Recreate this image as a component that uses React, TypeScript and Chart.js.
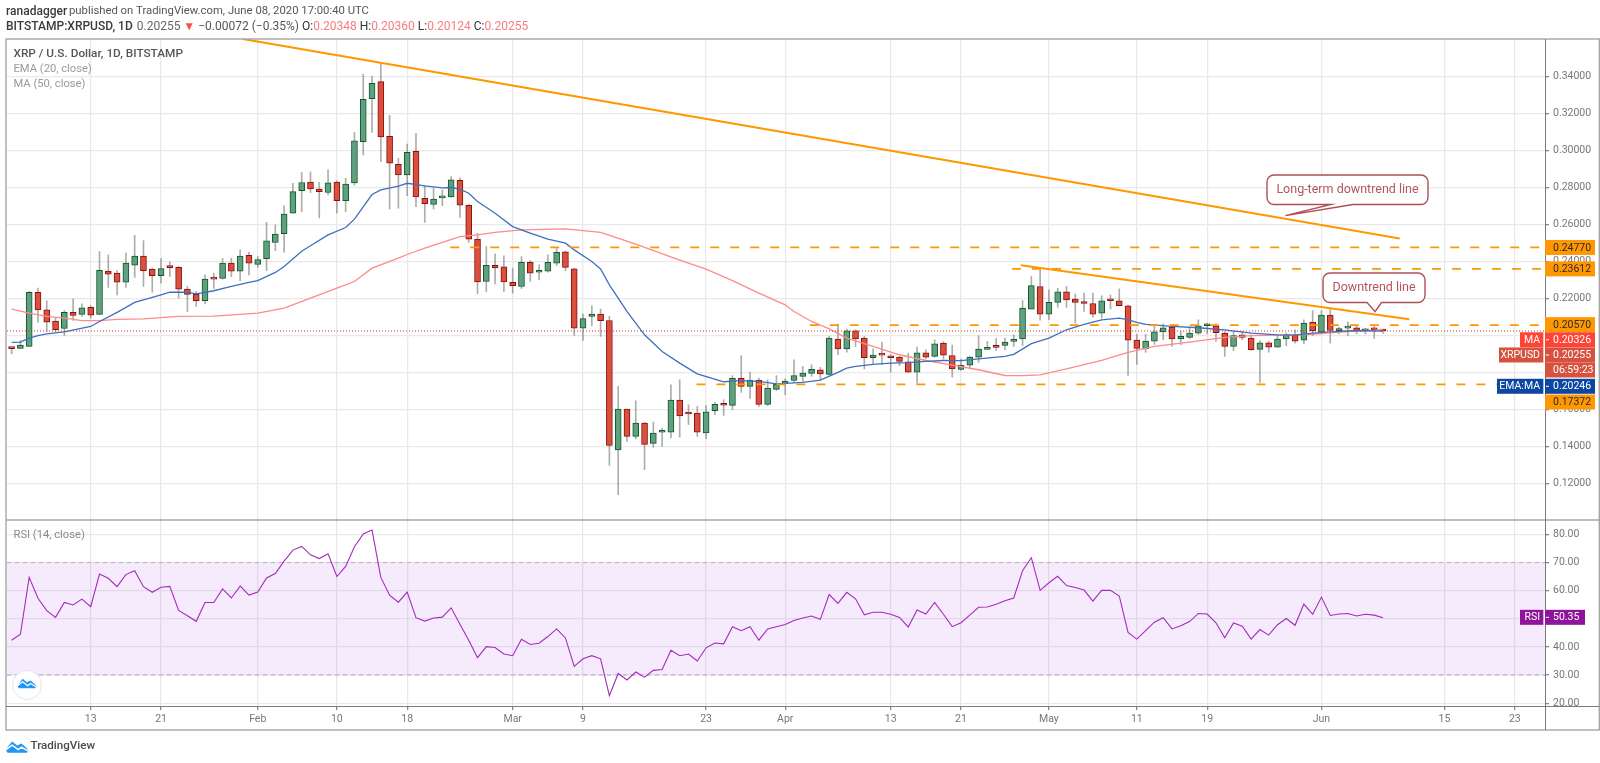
import React, { useEffect, useRef } from "react";
import { Chart, registerables } from "chart.js";

Chart.register(...registerables);

const opens = [
  0.1933, 0.1931, 0.1942, 0.2234, 0.214, 0.2079, 0.2039, 0.2127, 0.2115, 0.2154,
  0.2115, 0.2349, 0.2338, 0.2289, 0.2381, 0.243, 0.236, 0.2324, 0.2369, 0.2369,
  0.2252, 0.2223, 0.2189, 0.2311, 0.2309, 0.2392, 0.2349, 0.2435, 0.2385, 0.2417,
  0.2504, 0.2552, 0.2662, 0.2784, 0.2831, 0.2792, 0.2774, 0.2831, 0.273, 0.2826,
  0.3049, 0.3281, 0.3373, 0.3078, 0.2927, 0.2869, 0.2997, 0.2743, 0.2709, 0.2745,
  0.275, 0.284, 0.2705, 0.2522, 0.2293, 0.2381, 0.2372, 0.2289, 0.2266, 0.2397,
  0.2343, 0.2349, 0.2392, 0.2453, 0.2361, 0.2041, 0.2104, 0.2117, 0.2082, 0.1382,
  0.1604, 0.1456, 0.1528, 0.1418, 0.1478, 0.1479, 0.1652, 0.158, 0.1582, 0.1474,
  0.1595, 0.1627, 0.1623, 0.1769, 0.1726, 0.176, 0.1629, 0.171, 0.1742, 0.1758,
  0.178, 0.1796, 0.1816, 0.1791, 0.1982, 0.1928, 0.2027, 0.1987, 0.1881, 0.1896,
  0.189, 0.1884, 0.1859, 0.1803, 0.1908, 0.1888, 0.196, 0.1893, 0.1818, 0.1841,
  0.1884, 0.1926, 0.1942, 0.1947, 0.1969, 0.1982, 0.2144, 0.2266, 0.2117, 0.218,
  0.2237, 0.2198, 0.2185, 0.2174, 0.2122, 0.2194, 0.2189, 0.2162, 0.1976, 0.1928,
  0.1971, 0.2021, 0.2046, 0.1982, 0.1991, 0.2014, 0.2054, 0.2054, 0.2014, 0.1942,
  0.2005, 0.1987, 0.1926, 0.1962, 0.1938, 0.1982, 0.2005, 0.1976, 0.2073, 0.2019,
  0.2111, 0.2027, 0.2041, 0.2043, 0.2027, 0.2034, 0.20348,
];
const closes = [
  0.193, 0.1949, 0.2234, 0.214, 0.2073, 0.2032, 0.2127, 0.2109, 0.2151, 0.2111,
  0.2354, 0.2333, 0.2289, 0.2392, 0.243, 0.2352, 0.2325, 0.2363, 0.2368, 0.2252,
  0.2223, 0.219, 0.2306, 0.2306, 0.2392, 0.2349, 0.243, 0.2392, 0.2412, 0.2513,
  0.2549, 0.2657, 0.2779, 0.2828, 0.2793, 0.2779, 0.2826, 0.273, 0.282, 0.3054,
  0.3278, 0.3364, 0.3074, 0.2932, 0.2869, 0.2991, 0.275, 0.2714, 0.2739, 0.2756,
  0.2842, 0.2705, 0.2522, 0.2291, 0.2381, 0.2367, 0.2291, 0.2271, 0.2397, 0.2338,
  0.2349, 0.2397, 0.2451, 0.2369, 0.2041, 0.2093, 0.2117, 0.2081, 0.1407, 0.1604,
  0.1456, 0.1528, 0.1413, 0.1474, 0.1481, 0.1652, 0.1566, 0.1577, 0.1478, 0.1589,
  0.1629, 0.1624, 0.1769, 0.1726, 0.176, 0.1629, 0.1717, 0.1739, 0.1755, 0.1784,
  0.1798, 0.1818, 0.1793, 0.1987, 0.1928, 0.2027, 0.1982, 0.1881, 0.1895, 0.1895,
  0.1881, 0.1861, 0.1803, 0.1908, 0.1884, 0.1956, 0.1895, 0.182, 0.1841, 0.1884,
  0.1928, 0.1929, 0.1937, 0.1965, 0.1978, 0.2149, 0.2271, 0.2117, 0.218, 0.2237,
  0.2194, 0.218, 0.2174, 0.2117, 0.2189, 0.2189, 0.2163, 0.1976, 0.1931, 0.1971,
  0.2021, 0.2043, 0.1982, 0.1996, 0.2014, 0.2054, 0.206, 0.2016, 0.1942, 0.2,
  0.1991, 0.1924, 0.1962, 0.1938, 0.1982, 0.2005, 0.1971, 0.2068, 0.2027, 0.2111,
  0.2028, 0.2039, 0.2043, 0.2027, 0.2036, 0.2032, 0.20255,
];
const highs = [
  0.1934, 0.1974, 0.2239, 0.2257, 0.2189, 0.2095, 0.2136, 0.2199, 0.2172, 0.2162,
  0.2455, 0.2437, 0.2352, 0.2446, 0.2543, 0.2514, 0.2365, 0.2417, 0.2399, 0.2374,
  0.2266, 0.2239, 0.2329, 0.2338, 0.2417, 0.2419, 0.2464, 0.2451, 0.2428, 0.2613,
  0.2599, 0.2702, 0.2824, 0.2882, 0.2885, 0.2829, 0.2896, 0.2837, 0.2851, 0.3099,
  0.3413, 0.3404, 0.3476, 0.3191, 0.2959, 0.3036, 0.3094, 0.2811, 0.2797, 0.2788,
  0.286, 0.2853, 0.2711, 0.2554, 0.2482, 0.2442, 0.2432, 0.2365, 0.2428, 0.2406,
  0.2383, 0.2437, 0.2471, 0.2457, 0.2365, 0.2117, 0.2162, 0.2144, 0.2104, 0.1726,
  0.1604, 0.1648, 0.1532, 0.1533, 0.1501, 0.1735, 0.1762, 0.1627, 0.1618, 0.1622,
  0.164, 0.1654, 0.1784, 0.1892, 0.1803, 0.1771, 0.1762, 0.1784, 0.1767, 0.187,
  0.1834, 0.1843, 0.1829, 0.1996, 0.2063, 0.2036, 0.2032, 0.1996, 0.1929, 0.1964,
  0.1897, 0.1888, 0.1906, 0.1938, 0.1924, 0.1978, 0.1969, 0.1949, 0.1874, 0.1888,
  0.2, 0.1969, 0.1985, 0.1987, 0.2005, 0.219, 0.232, 0.2361, 0.2248, 0.2257,
  0.2266, 0.2225, 0.223, 0.223, 0.2216, 0.2221, 0.2253, 0.2165, 0.2007, 0.2007,
  0.2059, 0.2064, 0.2054, 0.2023, 0.2046, 0.2086, 0.2068, 0.2064, 0.2021, 0.2023,
  0.2023, 0.2005, 0.1973, 0.1969, 0.2007, 0.2014, 0.2032, 0.2086, 0.2136, 0.2136,
  0.2149, 0.2046, 0.2075, 0.2054, 0.2041, 0.205, 0.2036,
];
const lows = [
  0.1902, 0.1931, 0.1942, 0.2072, 0.2023, 0.2023, 0.2, 0.2082, 0.2104, 0.2095,
  0.2115, 0.2261, 0.2221, 0.2261, 0.2315, 0.2266, 0.2235, 0.2284, 0.232, 0.2203,
  0.2131, 0.2158, 0.2172, 0.2255, 0.2306, 0.232, 0.2297, 0.2329, 0.237, 0.2352,
  0.246, 0.2451, 0.2662, 0.2671, 0.2774, 0.2637, 0.2761, 0.2662, 0.2671, 0.2813,
  0.2977, 0.3099, 0.2941, 0.2685, 0.2689, 0.2757, 0.2698, 0.2612, 0.2685, 0.2703,
  0.2747, 0.2639, 0.2505, 0.2226, 0.2239, 0.228, 0.2239, 0.223, 0.2255, 0.2293,
  0.2302, 0.2343, 0.2379, 0.2352, 0.2001, 0.1974, 0.2054, 0.1996, 0.1299, 0.1141,
  0.1429, 0.1442, 0.1276, 0.1397, 0.1402, 0.1447, 0.1452, 0.1519, 0.1456, 0.1443,
  0.1573, 0.1569, 0.16, 0.1694, 0.1661, 0.1618, 0.1623, 0.1704, 0.1681, 0.1748,
  0.1753, 0.178, 0.1762, 0.1787, 0.1897, 0.1911, 0.1942, 0.182, 0.1843, 0.1843,
  0.1802, 0.1838, 0.1802, 0.1744, 0.1874, 0.1884, 0.1874, 0.1776, 0.1812, 0.182,
  0.1856, 0.1926, 0.192, 0.1924, 0.1942, 0.1946, 0.2144, 0.2084, 0.2086, 0.2153,
  0.2153, 0.2068, 0.2131, 0.21, 0.2095, 0.2144, 0.2163, 0.1785, 0.1845, 0.191,
  0.1953, 0.1978, 0.1942, 0.1951, 0.1985, 0.2007, 0.2009, 0.1969, 0.1888, 0.1919,
  0.1978, 0.192, 0.1748, 0.1911, 0.1937, 0.1946, 0.196, 0.1956, 0.2, 0.201,
  0.196, 0.201, 0.2, 0.201, 0.2009, 0.1985, 0.20124,
];
const rsiValues = [
  42.4, 44.5, 64.7, 57.3, 52.9, 50.5, 55.8, 54.9, 57.0, 54.3,
  65.9, 64.4, 61.4, 65.7, 67.1, 61.4, 59.4, 61.2, 61.5, 53.0,
  51.1, 49.1, 55.8, 55.8, 60.6, 57.4, 61.6, 58.4, 59.5, 64.5,
  66.1, 70.5, 74.4, 75.7, 72.7, 71.4, 73.1, 65.0, 68.6, 75.6,
  80.1, 81.5, 64.7, 58.4, 55.9, 59.5, 50.4, 49.2, 50.3, 50.6,
  53.9, 48.1, 42.4, 36.2, 40.1, 39.8, 37.5, 36.9, 42.7, 40.9,
  41.3, 43.7, 46.4, 43.2, 33.1, 35.8, 36.9, 35.8, 22.7, 30.6,
  28.3, 31.1, 29.3, 31.7, 32.0, 38.8, 36.9, 37.5, 35.0, 39.7,
  41.4, 41.1, 47.2, 45.8, 47.2, 42.4, 46.4, 47.2, 48.0, 49.4,
  50.3, 51.0, 49.8, 58.6, 55.5, 59.4, 57.1, 51.4, 52.3, 52.3,
  51.6, 50.5, 47.1, 53.1, 51.7, 55.8, 51.6, 47.2, 48.6, 51.3,
  54.1, 54.2, 55.2, 56.4, 57.4, 67.1, 71.7, 60.1, 62.8, 65.1,
  61.8, 61.1, 60.2, 56.3, 60.1, 60.1, 58.1, 45.2, 42.8, 45.8,
  48.8, 50.4, 46.4, 47.5, 49.0, 51.9, 51.7, 48.6, 43.3, 48.5,
  47.4, 42.8, 46.2, 44.2, 47.9, 50.1, 47.7, 55.2, 51.6, 57.7,
  51.2, 51.7, 51.9, 51.0, 51.6, 51.3, 50.35,
];
const emaDays = [0, 1, 2, 3, 4, 6, 9, 10, 12, 14, 15, 17, 18, 20, 21, 23, 25, 27, 28, 30, 31, 33, 34, 36, 38, 39, 41, 42, 44, 45, 47, 49, 50, 51, 52, 53, 55, 57, 59, 61, 63, 64, 66, 67, 68, 70, 72, 74, 76, 78, 81, 83, 85, 87, 90, 92, 94, 95, 96, 98, 100, 102, 104, 106, 108, 110, 113, 114, 116, 118, 120, 122, 124, 126, 127, 128, 129, 132, 135, 138, 141, 144, 146, 148, 150, 153, 156];
const emaValues = [0.1964, 0.1965, 0.1987, 0.2, 0.201, 0.2021, 0.205, 0.2077, 0.2126, 0.218, 0.2194, 0.2221, 0.2235, 0.2235, 0.2226, 0.2243, 0.2266, 0.2288, 0.2298, 0.2342, 0.2374, 0.2457, 0.2486, 0.2545, 0.2585, 0.263, 0.2763, 0.2788, 0.2808, 0.2824, 0.281, 0.2799, 0.2801, 0.2792, 0.277, 0.2725, 0.2662, 0.259, 0.2554, 0.2522, 0.25, 0.2464, 0.2401, 0.2361, 0.2275, 0.2131, 0.2005, 0.1915, 0.1852, 0.1794, 0.1751, 0.1757, 0.1753, 0.174, 0.1748, 0.176, 0.1802, 0.1825, 0.1834, 0.1845, 0.1852, 0.1854, 0.1861, 0.1866, 0.1865, 0.1875, 0.1888, 0.1899, 0.1957, 0.1987, 0.2032, 0.2061, 0.2086, 0.2095, 0.2086, 0.2072, 0.2061, 0.205, 0.2043, 0.2032, 0.2014, 0.2005, 0.2003, 0.2014, 0.2021, 0.2028, 0.20246];
const maDays = [0, 2, 4, 6, 8, 10, 12, 15, 19, 23, 28, 31, 34, 37, 39, 41, 44, 45, 47, 51, 53, 55, 58, 63, 67, 71, 76, 79, 82, 85, 88, 89, 91, 93, 95, 98, 101, 104, 107, 110, 113, 115, 117, 120, 124, 127, 130, 134, 138, 141, 144, 148, 151, 156];
const maValues = [0.2144, 0.2122, 0.2104, 0.2095, 0.2082, 0.2081, 0.2088, 0.2091, 0.2104, 0.2106, 0.2122, 0.2149, 0.2203, 0.2257, 0.2293, 0.2365, 0.2419, 0.2439, 0.2473, 0.2536, 0.2545, 0.2559, 0.2572, 0.2577, 0.2558, 0.2495, 0.2408, 0.236, 0.2298, 0.223, 0.2167, 0.2131, 0.2077, 0.2037, 0.1987, 0.1942, 0.1897, 0.1866, 0.1841, 0.1816, 0.1785, 0.1784, 0.1788, 0.1821, 0.1866, 0.191, 0.1942, 0.1965, 0.1991, 0.2, 0.2003, 0.2007, 0.2019, 0.20326];

const dayTicks = [9, 17, 28, 37, 45, 57, 65, 79, 88, 100, 108, 118, 128, 136, 149, 163, 171];
const dayTickLabels = ["13", "21", "Feb", "10", "18", "Mar", "9", "23", "Apr", "13", "21", "May", "11", "19", "Jun", "15", "23"];
const priceTicks = [0.12, 0.14, 0.16, 0.18, 0.2, 0.22, 0.24, 0.26, 0.28, 0.3, 0.32, 0.34];
const rsiTicks = [20, 30, 40, 50, 60, 70, 80];

const longTrendDays = [26.3, 157.9];
const longTrendPrices = [0.3604, 0.2526];
const shortTrendDays = [114.8, 159];
const shortTrendPrices = [0.2381, 0.2089];
const levelPrices = [0.2477, 0.23612, 0.2057, 0.17372];
const levelStartDays = [49.9, 113.8, 90.8, 77.9];
const lastPrice = 0.20255;
const rsiBandLevels = [70, 30];

const calloutTexts = ["Long-term downtrend line", "Downtrend line"];
const calloutDays = [144.9, 155.1];
const calloutPrices = [0.2649, 0.213];

const XMIN = -0.523;
const XMAX = 174.43;
const FONT = "Roboto, Arial, sans-serif";
const GRID = "#e9e9e9";

const hline = (y: number, from: number) => [{ x: from, y }, { x: XMAX, y }];
const zipLine = (xs: number[], ys: number[]) => xs.map((x, i) => ({ x, y: ys[i] }));

function logo(ctx: CanvasRenderingContext2D, x: number, y: number, s: number) {
  ctx.save();
  ctx.translate(x, y);
  ctx.scale(s, s);
  ctx.fillStyle = "#2196F3";
  ctx.beginPath();
  ctx.moveTo(1.5, 12);
  ctx.lineTo(0, 9.5);
  ctx.lineTo(2, 6);
  ctx.lineTo(6, 1);
  ctx.lineTo(11, 5);
  ctx.lineTo(15, 3);
  ctx.lineTo(20.5, 7.5);
  ctx.lineTo(22, 10);
  ctx.lineTo(20.5, 12);
  ctx.closePath();
  ctx.fill();
  ctx.strokeStyle = "#fff";
  ctx.lineWidth = 1.4;
  ctx.beginPath();
  ctx.moveTo(0, 9);
  ctx.lineTo(6, 4.5);
  ctx.lineTo(12, 9);
  ctx.lineTo(15, 6.5);
  ctx.lineTo(22, 10.5);
  ctx.stroke();
  ctx.restore();
}

function runs(ctx: CanvasRenderingContext2D, x: number, y: number, font: string, parts: [string, string][]) {
  ctx.font = font;
  ctx.textAlign = "left";
  ctx.textBaseline = "middle";
  let cx = x;
  for (const [text, color] of parts) {
    ctx.fillStyle = color;
    ctx.fillText(text, cx, y);
    cx += ctx.measureText(text).width;
  }
}

function tag(
  ctx: CanvasRenderingContext2D,
  cy: number,
  value: string,
  bg: string,
  fg: string,
  label?: string,
  labelLeft?: number,
  right = 1595
) {
  const h = 15;
  ctx.font = `10.5px ${FONT}`;
  ctx.textBaseline = "middle";
  ctx.fillStyle = bg;
  ctx.fillRect(1545, cy - h / 2, right - 1545, h);
  ctx.fillStyle = fg;
  ctx.textAlign = "left";
  ctx.fillText(value, 1553, cy + 0.5);
  if (label && labelLeft) {
    ctx.fillStyle = bg;
    ctx.fillRect(labelLeft, cy - h / 2, 1543.6 - labelLeft, h);
    ctx.fillStyle = fg;
    ctx.textAlign = "right";
    ctx.fillText(label, 1540, cy + 0.5);
    ctx.fillStyle = "#fff";
    ctx.fillRect(1543.6, cy - h / 2, 1.4, h);
    ctx.fillRect(1546, cy - 0.5, 3, 1);
  }
}

function callout(
  ctx: CanvasRenderingContext2D,
  text: string,
  ax: number,
  ay: number,
  box: [number, number, number, number],
  tail: [number, number]
) {
  const [l, t, r, b] = box;
  const rad = 7;
  ctx.beginPath();
  ctx.moveTo(l + rad, t);
  ctx.arcTo(r, t, r, b, rad);
  ctx.arcTo(r, b, l, b, rad);
  ctx.lineTo(tail[1], b);
  ctx.lineTo(ax, ay);
  ctx.lineTo(tail[0], b);
  ctx.arcTo(l, b, l, t, rad);
  ctx.arcTo(l, t, r, t, rad);
  ctx.closePath();
  ctx.fillStyle = "#fff";
  ctx.fill();
  ctx.strokeStyle = "#AE4F58";
  ctx.lineWidth = 1.4;
  ctx.stroke();
  ctx.fillStyle = "#B4545C";
  ctx.font = `12.5px ${FONT}`;
  ctx.textAlign = "center";
  ctx.textBaseline = "middle";
  ctx.fillText(text, (l + r) / 2, (t + b) / 2 + 0.5);
}

const overlay = {
  id: "overlay",
  afterDraw(chart: any) {
    const { ctx, scales } = chart;
    const y = scales.y;
    const y2 = scales.y2;
    const x = scales.x;
    ctx.save();

    // frame and pane separators
    ctx.strokeStyle = "#a6a6a6";
    ctx.lineWidth = 1.4;
    ctx.strokeRect(6, 39, 1593.3, 691);
    ctx.beginPath();
    ctx.moveTo(6, 520);
    ctx.lineTo(1599.3, 520);
    ctx.stroke();
    ctx.strokeStyle = "#7a7a7a";
    ctx.lineWidth = 1;
    ctx.beginPath();
    ctx.moveTo(6, 706.5);
    ctx.lineTo(1599.3, 706.5);
    ctx.moveTo(1545.5, 39);
    ctx.lineTo(1545.5, 730);
    ctx.stroke();

    // header
    runs(ctx, 6, 11.5, `500 12px ${FONT}`, [["ranadagger", "#3a3a3a"]]);
    runs(ctx, 69, 11.5, `11.3px ${FONT}`, [["published on TradingView.com, June 08, 2020 17:00:40 UTC", "#555"]]);
    runs(ctx, 6, 26.5, `500 12px ${FONT}`, [["BITSTAMP:XRPUSD, 1D", "#3a3a3a"]]);
    const w2 = ctx.measureText("BITSTAMP:XRPUSD, 1D").width;
    runs(ctx, 6 + w2 + 4, 26.5, `12px ${FONT}`, [
      ["0.20255 ", "#666"],
      ["▼", "#F4554A"],
      [" −0.00072 (−0.35%) ", "#555"],
      ["O:", "#333"],
      ["0.20348 ", "#F77C80"],
      ["H:", "#333"],
      ["0.20360 ", "#F77C80"],
      ["L:", "#333"],
      ["0.20124 ", "#F77C80"],
      ["C:", "#333"],
      ["0.20255", "#F77C80"],
    ]);

    // legends
    runs(ctx, 13.5, 54, `500 11.8px ${FONT}`, [["XRP / U.S. Dollar, 1D, BITSTAMP", "#555"]]);
    runs(ctx, 13.5, 69, `11.2px ${FONT}`, [["EMA (20, close)", "#9a9a9a"]]);
    runs(ctx, 13.5, 84.5, `11.2px ${FONT}`, [["MA (50, close)", "#9a9a9a"]]);
    runs(ctx, 13.5, 535, `11.2px ${FONT}`, [["RSI (14, close)", "#8a8a8a"]]);

    // logos
    ctx.beginPath();
    ctx.arc(27, 685, 14.5, 0, Math.PI * 2);
    ctx.fillStyle = "#fff";
    ctx.fill();
    ctx.strokeStyle = "#e4e4e4";
    ctx.lineWidth = 1;
    ctx.stroke();
    logo(ctx, 17.5, 678, 0.86);
    logo(ctx, 6, 740.5, 1.02);
    runs(ctx, 30.5, 746.5, `500 11.6px ${FONT}`, [["TradingView", "#4a4a4a"]]);

    // callouts anchored on the price scale
    callout(ctx, calloutTexts[0], x.getPixelForValue(calloutDays[0]), y.getPixelForValue(calloutPrices[0]), [1267, 175, 1428, 204.5], [1331, 1353]);
    callout(ctx, calloutTexts[1], x.getPixelForValue(calloutDays[1]), y.getPixelForValue(calloutPrices[1]), [1323, 273, 1425, 302.5], [1367, 1381.5]);

    // price tags
    const orange = "#FF9800";
    tag(ctx, y.getPixelForValue(levelPrices[0]), levelPrices[0].toFixed(5), orange, "#2b2b2b");
    tag(ctx, y.getPixelForValue(levelPrices[1]), levelPrices[1].toFixed(5), orange, "#2b2b2b");
    tag(ctx, y.getPixelForValue(levelPrices[2]) - 0.5, levelPrices[2].toFixed(5), orange, "#2b2b2b");
    const last = y.getPixelForValue(lastPrice);
    tag(ctx, last + 8.8, "0.20326", "#FF4436", "#fff", "MA", 1520);
    tag(ctx, last + 24, "0.20255", "#D6523F", "#fff", "XRPUSD", 1499);
    tag(ctx, last + 39, "06:59:23", "#D6523F", "#fff");
    tag(ctx, last + 55.3, "0.20246", "#0D47A1", "#fff", "EMA:MA", 1497);
    tag(ctx, y.getPixelForValue(levelPrices[3]) + 17.7, levelPrices[3].toFixed(5), orange, "#2b2b2b");
    tag(ctx, y2.getPixelForValue(rsiValues[rsiValues.length - 1]) - 0.5, "50.35", "#8E1599", "#fff", "RSI", 1520, 1585);

    ctx.restore();
  },
};

export default function App() {
  const ref = useRef<HTMLCanvasElement>(null);
  useEffect(() => {
    document.body.style.margin = "0";
    const days = opens.map((_, i) => i);
    const orderLevel = levelPrices.map((p, k) => ({
      type: "line" as const,
      label: `level ${p}`,
      data: hline(p, levelStartDays[k]),
      xAxisID: "x",
      yAxisID: "y",
      borderColor: "#FF9800",
      borderWidth: 1.7,
      borderDash: [9, 11],
      pointRadius: 0,
      order: 2,
    }));
    const chart = new Chart(ref.current as HTMLCanvasElement, {
      type: "bar",
      data: {
        datasets: [
          {
            type: "line",
            label: "RSI upper",
            data: hline(rsiBandLevels[0], XMIN),
            xAxisID: "x",
            yAxisID: "y2",
            borderColor: "#bcaec6",
            borderWidth: 1,
            borderDash: [4, 4],
            pointRadius: 0,
            backgroundColor: "rgba(155,60,240,0.1)",
            fill: "+1",
            order: 10,
          },
          {
            type: "line",
            label: "RSI lower",
            data: hline(rsiBandLevels[1], XMIN),
            xAxisID: "x",
            yAxisID: "y2",
            borderColor: "#bcaec6",
            borderWidth: 1,
            borderDash: [4, 4],
            pointRadius: 0,
            fill: false,
            order: 10,
          },
          {
            type: "line",
            label: "RSI",
            data: zipLine(days, rsiValues),
            xAxisID: "x",
            yAxisID: "y2",
            borderColor: "#A32CB8",
            borderWidth: 1.1,
            pointRadius: 0,
            order: 1,
          },
          {
            type: "bar",
            label: "Wicks",
            data: days.map((i) => ({ x: i, y: [lows[i], highs[i]] })),
            xAxisID: "x",
            yAxisID: "y",
            backgroundColor: "rgba(105,105,105,0.55)",
            barThickness: 1,
            grouped: false,
            order: 7,
          },
          {
            type: "bar",
            label: "XRPUSD",
            data: days.map((i) => ({ x: i, y: [opens[i], closes[i]] })),
            xAxisID: "x",
            yAxisID: "y",
            backgroundColor: days.map((i) => (closes[i] >= opens[i] ? "#60A07E" : "#D9503D")),
            borderColor: days.map((i) => (closes[i] >= opens[i] ? "#0E5A2C" : "#8A0F0F")),
            borderWidth: 1,
            borderSkipped: false,
            barThickness: 6,
            minBarLength: 2,
            grouped: false,
            order: 6,
          },
          {
            type: "line",
            label: "MA (50, close)",
            data: zipLine(maDays, maValues),
            xAxisID: "x",
            yAxisID: "y",
            borderColor: "#FF8A8A",
            borderWidth: 1.3,
            pointRadius: 0,
            order: 5,
          },
          {
            type: "line",
            label: "EMA (20, close)",
            data: zipLine(emaDays, emaValues),
            xAxisID: "x",
            yAxisID: "y",
            borderColor: "#3F6FBF",
            borderWidth: 1.3,
            pointRadius: 0,
            order: 4,
          },
          {
            type: "line",
            label: "Last price",
            data: hline(lastPrice, XMIN),
            xAxisID: "x",
            yAxisID: "y",
            borderColor: "#C8392B",
            borderWidth: 1,
            borderDash: [1, 2],
            pointRadius: 0,
            order: 3,
          },
          ...orderLevel,
          {
            type: "line",
            label: "Long-term downtrend line",
            data: zipLine(longTrendDays, longTrendPrices),
            xAxisID: "x",
            yAxisID: "y",
            borderColor: "#FF9800",
            borderWidth: 2,
            pointRadius: 0,
            order: 2,
          },
          {
            type: "line",
            label: "Downtrend line",
            data: zipLine(shortTrendDays, shortTrendPrices),
            xAxisID: "x",
            yAxisID: "y",
            borderColor: "#FF9800",
            borderWidth: 2,
            pointRadius: 0,
            order: 2,
          },
        ] as any,
      },
      options: {
        responsive: false,
        animation: false,
        layout: { padding: { left: 7, right: 0, top: 39, bottom: 33 } },
        plugins: { legend: { display: false }, tooltip: { enabled: false } },
        elements: { line: { tension: 0 } },
        scales: {
          x: {
            type: "linear",
            min: XMIN,
            max: XMAX,
            offset: false,
            position: "bottom",
            afterBuildTicks: (s: any) => {
              s.ticks = dayTicks.map((value) => ({ value }));
            },
            afterFit: (s: any) => {
              s.height = 24;
            },
            grid: { color: GRID, lineWidth: 1.3, tickLength: 4, tickColor: "#888", offset: false },
            border: { display: false },
            ticks: {
              autoSkip: false,
              maxRotation: 0,
              padding: 3,
              color: "#777",
              font: { family: FONT, size: 10.5 },
              callback: (v: any) => dayTickLabels[dayTicks.indexOf(v)] ?? "",
            },
          },
          y: {
            type: "linear",
            position: "right",
            stack: "panes",
            stackWeight: 481,
            min: 0.10038,
            max: 0.36038,
            afterBuildTicks: (s: any) => {
              s.ticks = priceTicks.map((value) => ({ value }));
            },
            afterFit: (s: any) => {
              s.width = 55;
            },
            grid: { color: GRID, lineWidth: 1.3, tickLength: 4, tickColor: "#888" },
            border: { display: false },
            ticks: {
              padding: 4,
              color: "#777",
              font: { family: FONT, size: 10.5 },
              callback: (v: any) => Number(v).toFixed(5),
            },
          },
          y2: {
            type: "linear",
            position: "right",
            stack: "panes",
            stackWeight: 186,
            min: 19.04,
            max: 85.08,
            afterBuildTicks: (s: any) => {
              s.ticks = rsiTicks.map((value) => ({ value }));
            },
            afterFit: (s: any) => {
              s.width = 55;
            },
            grid: { color: GRID, lineWidth: 1.3, tickLength: 4, tickColor: "#888" },
            border: { display: false },
            ticks: {
              padding: 4,
              color: "#777",
              font: { family: FONT, size: 10.5 },
              callback: (v: any) => Number(v).toFixed(2),
            },
          },
        },
      } as any,
      plugins: [overlay],
    });
    return () => chart.destroy();
  }, []);
  return (
    <div style={{ position: "fixed", left: 0, top: 0, width: 1600, height: 763, background: "#fff" }}>
      <canvas ref={ref} width={1600} height={763} style={{ display: "block" }} />
    </div>
  );
}
